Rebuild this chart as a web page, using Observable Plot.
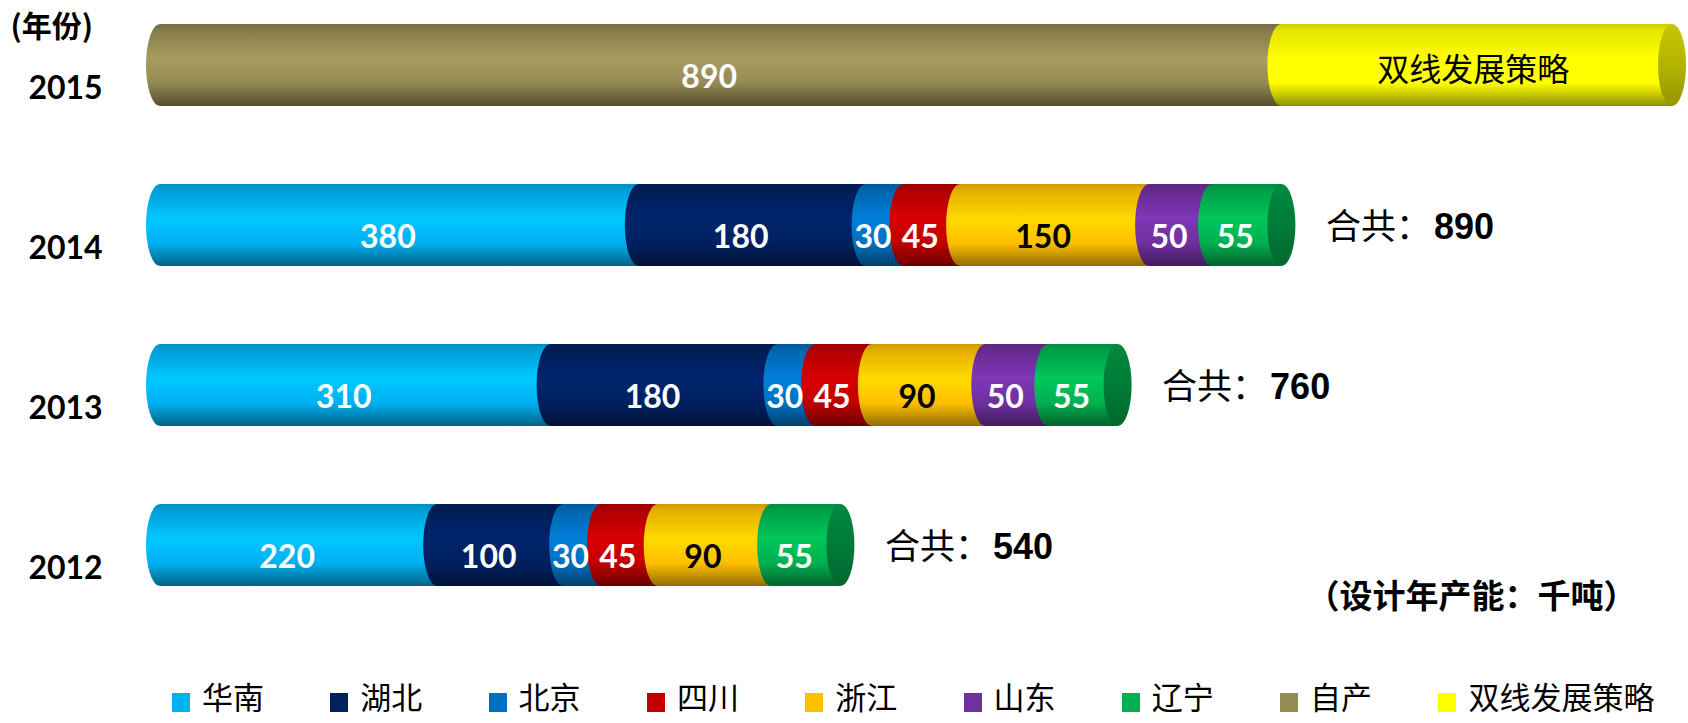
<!DOCTYPE html>
<html><head><meta charset="utf-8">
<script src="https://cdn.jsdelivr.net/npm/d3@7"></script>
<script src="https://cdn.jsdelivr.net/npm/@observablehq/plot@0.6"></script>
<style>
body{margin:0;background:#fff;width:1688px}
#chart svg{display:block}
#legend{position:relative;height:43px}
.item{position:absolute;top:0px;display:flex;align-items:flex-start;font-family:"Noto Sans CJK SC",sans-serif;font-size:31px;line-height:31px;color:#000;white-space:nowrap}
.sw{width:18px;height:19px;margin-top:13px;margin-right:12px;flex:none}
</style></head><body>
<svg width="0" height="0" style="position:absolute"><defs id="defs"></defs></svg>
<div id="chart"></div>
<div id="legend"></div>
<script>
// ---- data ----
const years = ["2015", "2014", "2013", "2012"];
const series = ["华南", "湖北", "北京", "四川", "浙江", "山东", "辽宁", "自产", "双线发展策略"];
const colors = ["#00B0F0", "#002060", "#0070C0", "#C00000", "#FFC000", "#7030A0", "#00B050", "#948A54", "#FFFF00"];
const v2015 = [0, 0, 0, 0, 0, 0, 0, 890, 310];
const v2014 = [380, 180, 30, 45, 150, 50, 55, 0, 0];
const v2013 = [310, 180, 30, 45, 90, 50, 55, 0, 0];
const v2012 = [220, 100, 30, 45, 90, 0, 55, 0, 0];
const totalYears = ["2014", "2013", "2012"];
const darkLabelSeries = ["浙江"];
const nameLabelSeries = ["双线发展策略"];
const yearTitle = "(年份)";
const unitNote = "（设计年产能：千吨）";
const totalPrefix = "合共：";

const valuesByYear = {"2015": v2015, "2014": v2014, "2013": v2013, "2012": v2012};

// build stacked rows
const rows = [];
const caps = [];
const totals = [];
for (const y of years) {
  let acc = 0;
  let last = null;
  valuesByYear[y].forEach((v, i) => {
    if (v > 0) {
      last = {year: y, series: series[i], value: v, start: acc, end: acc + v};
      rows.push(last);
      acc += v;
    }
  });
  caps.push(last);
  if (totalYears.includes(y)) totals.push({year: y, total: acc});
}

// gradients (cylinder shading)
const defs = document.getElementById("defs");
const NS = "http://www.w3.org/2000/svg";
function addGrad(id, stops) {
  const g = document.createElementNS(NS, "linearGradient");
  g.setAttribute("id", id);
  g.setAttribute("x1", 0); g.setAttribute("y1", 0); g.setAttribute("x2", 0); g.setAttribute("y2", 1);
  for (const [o, c] of stops) {
    const s = document.createElementNS(NS, "stop");
    s.setAttribute("offset", o);
    s.setAttribute("stop-color", c);
    g.appendChild(s);
  }
  defs.appendChild(g);
}
colors.forEach((c, i) => {
  const col = d3.color(c);
  const dk = k => col.darker(k).formatHex();
  const br = k => col.brighter(k).formatHex();
  addGrad("g" + i, [[0, dk(0.6)], [0.08, dk(0.3)], [0.42, br(0.35)], [0.72, c], [1, dk(1.6)]]);
  addGrad("c" + i, [[0, dk(0.7)], [0.5, dk(1.0)], [1, dk(1.5)]]);
});

const R = 14;
const cjk = "Noto Sans CJK SC";

const plot = Plot.plot({
  width: 1688,
  height: 680,
  marginLeft: 160,
  marginRight: 16,
  marginTop: 24,
  marginBottom: 94,
  x: {domain: [0, 1200], axis: null},
  y: {domain: years, axis: null, paddingInner: 0.4875, paddingOuter: 0},
  color: {domain: series, range: colors},
  style: {background: "white", overflow: "visible"},
  marks: [
    Plot.barX(rows, {x1: "start", x2: "end", y: "year", fill: "series"}),
    Plot.barX(rows, {x1: "start", x2: "start", y: "year", fill: "series", insetLeft: -R, insetRight: -R, rx: R, ry: 41}),
    Plot.barX(caps, {x1: "end", x2: "end", y: "year", fill: "series", insetLeft: -R, insetRight: -R, rx: R, ry: 41}),
    // segment value labels
    Plot.text(rows.filter(d => !darkLabelSeries.includes(d.series) && !nameLabelSeries.includes(d.series)), {
      x: d => (d.start + d.end) / 2, y: "year", text: d => String(d.value),
      fill: "white", dx: -12, dy: 12, fontSize: 32, fontWeight: "bold", fontFamily: "Lato"
    }),
    Plot.text(rows.filter(d => darkLabelSeries.includes(d.series)), {
      x: d => (d.start + d.end) / 2, y: "year", text: d => String(d.value),
      fill: "black", dx: -12, dy: 12, fontSize: 32, fontWeight: "bold", fontFamily: "Lato"
    }),
    Plot.text(rows.filter(d => nameLabelSeries.includes(d.series)), {
      x: d => (d.start + d.end) / 2, y: "year", text: "series",
      fill: "black", dx: -4, dy: 5, fontSize: 32, fontFamily: cjk
    }),
    // year labels
    Plot.text(years, {
      y: d => d, frameAnchor: "left", text: d => d, dx: -95, dy: 23,
      textAnchor: "middle", fontSize: 32, fontWeight: "bold", fontFamily: "Lato", fill: "black"
    }),
    // totals
    Plot.text(totals, {
      x: "total", y: "year", text: () => totalPrefix, dx: 44, dy: 2,
      textAnchor: "start", fontSize: 35, fontFamily: cjk, fill: "black"
    }),
    Plot.text(totals, {
      x: "total", y: "year", text: d => String(d.total), dx: 152, dy: 2,
      textAnchor: "start", fontSize: 36, fontWeight: "bold", fontFamily: "Liberation Sans", fill: "black"
    }),
    // titles
    Plot.text([yearTitle], {
      frameAnchor: "top-left", text: d => d, dx: -150, dy: 3,
      textAnchor: "start", lineAnchor: "middle", fontSize: 30, fontWeight: "bold", fontFamily: cjk, fill: "black"
    }),
    Plot.text([unitNote], {
      frameAnchor: "bottom-right", text: d => d, dx: -36, dy: 11,
      textAnchor: "end", lineAnchor: "middle", fontSize: 33, fontWeight: "bold", fontFamily: cjk, fill: "black"
    })
  ]
});

// apply gradients: bar groups in order are body, lead ellipse, end cap
const idx = new Map(colors.map((c, i) => [c.toLowerCase(), i]));
const barGroups = plot.querySelectorAll('g[aria-label="bar"]');
barGroups.forEach((g, gi) => {
  const prefix = gi === 2 ? "c" : "g";
  g.querySelectorAll("rect").forEach(r => {
    const f = (r.getAttribute("fill") || "").toLowerCase();
    if (idx.has(f)) r.setAttribute("fill", `url(#${prefix}${idx.get(f)})`);
  });
});
document.getElementById("chart").appendChild(plot);

// legend
const legend = document.getElementById("legend");
series.forEach((s, i) => {
  const it = document.createElement("div");
  it.className = "item";
  it.style.left = (172 + i * 158.3) + "px";
  it.innerHTML = `<span class="sw" style="background:${colors[i]}"></span><span>${s}</span>`;
  legend.appendChild(it);
});
</script>
</body></html>
